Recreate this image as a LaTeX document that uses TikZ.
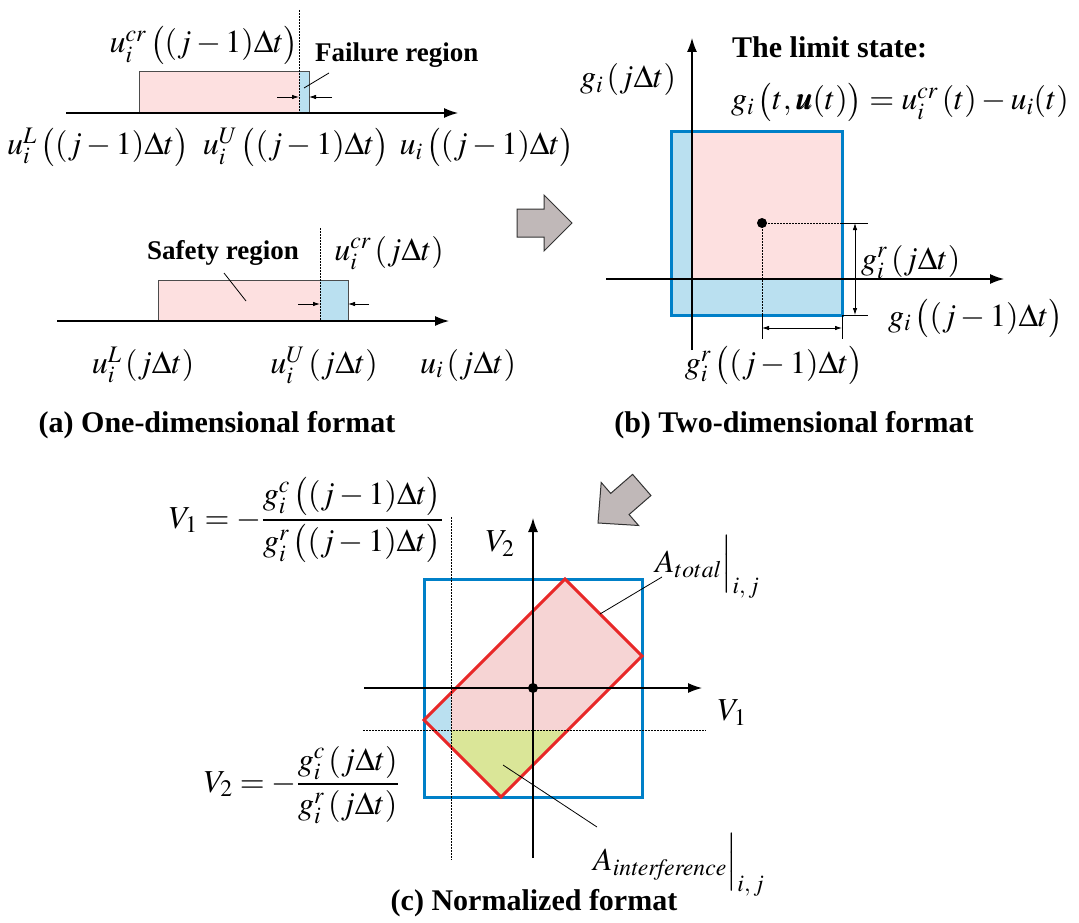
\documentclass[tikz,border=0pt]{standalone}
\usepackage{amsmath}
\usepackage{mathptmx}
\usepackage{bm}
\usepackage{fontspec}
\setmainfont{Liberation Serif}
\newfontfamily\capfont{Liberation Serif}[UprightFont={* Bold}, BoldFont={* Bold}]
\usetikzlibrary{arrows.meta}
\definecolor{pinkf}{RGB}{253,224,224}
\definecolor{pinkc}{RGB}{246,212,212}
\definecolor{bluef}{RGB}{186,224,240}
\definecolor{blueline}{RGB}{0,128,200}
\definecolor{redline}{RGB}{232,40,40}
\definecolor{greenf}{RGB}{218,230,152}
\definecolor{arrowgray}{RGB}{192,184,184}
\begin{document}
\begin{tikzpicture}[x=1pt,y=-1pt,
  lbl/.style={inner sep=0pt, font=\fontsize{32}{38}\selectfont},
  captxt/.style={inner sep=0pt, font=\fontsize{30}{36}\capfont},
  reg/.style={inner sep=0pt, font=\fontsize{27}{32}\capfont},
  axis/.style={line width=1.2pt, -{Latex[length=14pt,width=10pt]}},
  thinl/.style={line width=0.8pt},
  dimarr/.style={line width=0.8pt, -{Latex[length=7pt,width=4.5pt]}},
  dimboth/.style={line width=0.8pt, {Latex[length=7pt,width=4.5pt]}-{Latex[length=7pt,width=4.5pt]}},
  dots/.style={line width=1pt, dash pattern=on 1.6pt off 1.4pt},
  box/.style={draw=black!70, line width=1pt},
  blockarrow/.style={fill=arrowgray, draw=black!80, line width=1pt, line join=miter},
  thick blue/.style={draw=blueline, line width=3pt},
  thick red/.style={draw=redline, line width=3pt, line join=miter}
]
\useasboundingbox (0,0) rectangle (1079,923);

%% ---------------- (a) top ----------------
\fill[pinkf] (139,72) rectangle (299,113);
\fill[bluef] (299,72) rectangle (309,113);
\draw[box] (139,113) -- (139,72) -- (309,72) -- (309,113);
\coordinate (a1dt) at (299,10); \coordinate (a1db) at (299,113);
\draw[dots] (a1dt) -- (a1db);
\coordinate (a1s) at (66,113); \coordinate (a1e) at (458,113);
\draw[axis] (a1s) -- (a1e);
\coordinate (a1l1) at (277,97); \coordinate (a1l2) at (299,97);
\coordinate (a1r1) at (332,97); \coordinate (a1r2) at (309,97);
\draw[dimarr] (a1l1) -- (a1l2);
\draw[dimarr] (a1r1) -- (a1r2);
\node[lbl] (ucrA) at (204,45) {$u_i^{cr}\,\bigl((j-1)\Delta t\bigr)$};
\node[reg, anchor=west] (fail) at (315,55) {Failure region};
\coordinate (failp) at (304,88);
\draw[thinl] (329,73) -- (failp);
\node[lbl] (uLA) at (98,147) {$u_i^{L}\,\bigl((j-1)\Delta t\bigr)$};
\node[lbl] (uUA) at (296,147) {$u_i^{U}\,\bigl((j-1)\Delta t\bigr)$};
\node[lbl] (uA) at (487,147) {$u_i\,\bigl((j-1)\Delta t\bigr)$};

%% ---------------- (a) bottom ----------------
\fill[pinkf] (158,280) rectangle (320,321);
\fill[bluef] (320,280) rectangle (348,321);
\draw[box] (158,321) -- (158,280) -- (348,280) -- (348,321);
\coordinate (a2dt) at (320,228); \coordinate (a2db) at (320,321);
\draw[dots] (a2dt) -- (a2db);
\coordinate (a2s) at (57,321); \coordinate (a2e) at (449,321);
\draw[axis] (a2s) -- (a2e);
\coordinate (a2l1) at (298,304); \coordinate (a2l2) at (320,304);
\coordinate (a2r1) at (369,304); \coordinate (a2r2) at (348,304);
\draw[dimarr] (a2l1) -- (a2l2);
\draw[dimarr] (a2r1) -- (a2r2);
\node[reg] (safe) at (223,253) {Safety region};
\coordinate (safep) at (246,301);
\draw[thinl] (224,273) -- (safep);
\node[lbl] (ucrB) at (389,253) {$u_i^{cr}\,(j\Delta t)$};
\node[lbl] (uLB) at (143,365) {$u_i^{L}\,(j\Delta t)$};
\node[lbl] (uUB) at (324,365) {$u_i^{U}\,(j\Delta t)$};
\node[lbl] (uB) at (468,365) {$u_i\,(j\Delta t)$};
\node[captxt] (capa) at (217,425) {(a) One-dimensional format};

%% ---------------- block arrows ----------------
\begin{scope}[shift={(572,223)}]
  \draw[blockarrow] (0,0) -- (-28,-28) -- (-28,-14) -- (-55,-14) -- (-55,14) -- (-28,14) -- (-28,28) -- cycle;
\end{scope}
\begin{scope}[shift={(598,523)}, rotate=221]
  \draw[blockarrow] (0,0) -- (-29,-28.5) -- (-29,-14) -- (-58,-14) -- (-58,14) -- (-29,14) -- (-29,28.5) -- cycle;
\end{scope}

%% ---------------- (b) ----------------
\fill[bluef] (671,132) rectangle (842,315);
\fill[pinkf] (692,132) rectangle (842,279);
\draw[thick blue] (671,132) rectangle (842,315);
\coordinate (bvs) at (692,350); \coordinate (bve) at (692,38);
\draw[axis] (bvs) -- (bve);
\coordinate (bhs) at (606,279); \coordinate (bhe) at (1004,279);
\draw[axis] (bhs) -- (bhe);
\node[circle, fill=black, inner sep=0pt, minimum size=10pt] (bdot) at (762,223) {};
\coordinate (bdr) at (842,223); \coordinate (bdb) at (762,315);
\draw[dots] (bdot.center) -- (bdr);
\draw[dots] (bdot.center) -- (bdb);
\draw[thinl] (bdr) -- (868,223);
\draw[thinl] (842,315) -- (868,315);
\draw[thinl] (bdb) -- (762,339);
\draw[thinl] (842,315) -- (842,339);
\coordinate (bv1) at (855,223); \coordinate (bv2) at (855,315);
\draw[dimboth] (bv1) -- (bv2);
\coordinate (bh1) at (762,328); \coordinate (bh2) at (842,328);
\draw[dimboth] (bh1) -- (bh2);
\node[lbl] (gj) at (628,80) {$g_i\,(j\Delta t)$};
\node[captxt, anchor=west] (lim) at (732,47) {The limit state:};
\node[lbl, anchor=west] (limeq) at (731,102) {$g_i\,\bigl(t,\bm{u}(t)\bigr)=u_i^{cr}\,(t)-u_i(t)$};
\node[lbl, anchor=west] (grj) at (861,262) {$g_i^{r}\,(j\Delta t)$};
\node[lbl, anchor=west] (gjm) at (888,318) {$g_i\,\bigl((j-1)\Delta t\bigr)$};
\node[lbl] (grjm) at (774,365) {$g_i^{r}\,\bigl((j-1)\Delta t\bigr)$};
\node[captxt] (capb) at (794,425) {(b) Two-dimensional format};

%% ---------------- (c) ----------------
\begin{scope}
  \clip (565,579) -- (642,656) -- (501,797) -- (424,720) -- cycle;
  \fill[pinkc] (451,560) rectangle (660,730);
  \fill[greenf] (451,730) rectangle (660,810);
  \fill[bluef] (410,560) rectangle (451,810);
\end{scope}
\draw[thick blue] (424,579) rectangle (642,797);
\draw[thick red] (565,579) -- (642,656) -- (501,797) -- (424,720) -- cycle;
\coordinate (cdvt) at (451,517); \coordinate (cdvb) at (451,860);
\draw[dots] (cdvt) -- (cdvb);
\coordinate (cdhl) at (363,730); \coordinate (cdhr) at (706,730);
\draw[dots] (cdhl) -- (cdhr);
\coordinate (cvs) at (533,858); \coordinate (cve) at (533,518);
\draw[axis] (cvs) -- (cve);
\coordinate (chs) at (364,688); \coordinate (che) at (702,688);
\draw[axis] (chs) -- (che);
\node[circle, fill=black, inner sep=0pt, minimum size=10pt] (cdot) at (533,688) {};
\node[lbl] (V2) at (500,544) {$V_2$};
\node[lbl] (V1) at (732,713) {$V_1$};
\node[lbl, anchor=base west] (Atot) at (655,572) {$A_{total}\Big|_{i,\,j}$};
\coordinate (atp) at (600,614);
\draw[thinl] (atp) -- (662,577);
\node[lbl, anchor=base west] (Aint) at (593,870) {$A_{\mathit{interference}}\Big|_{i,\,j}$};
\coordinate (aip) at (503,765);
\draw[thinl] (aip) -- (597,827);
\node[lbl, anchor=east] (V1eq) at (443,520) {$V_1=-\dfrac{g_i^{c}\,\bigl((j-1)\Delta t\bigr)}{g_i^{r}\,\bigl((j-1)\Delta t\bigr)}$};
\node[lbl, anchor=east] (V2eq) at (399,785) {$V_2=-\dfrac{g_i^{c}\,(j\Delta t)}{g_i^{r}\,(j\Delta t)}$};
\node[captxt] (capc) at (534,903) {(c) Normalized format};
\end{tikzpicture}
\end{document}
